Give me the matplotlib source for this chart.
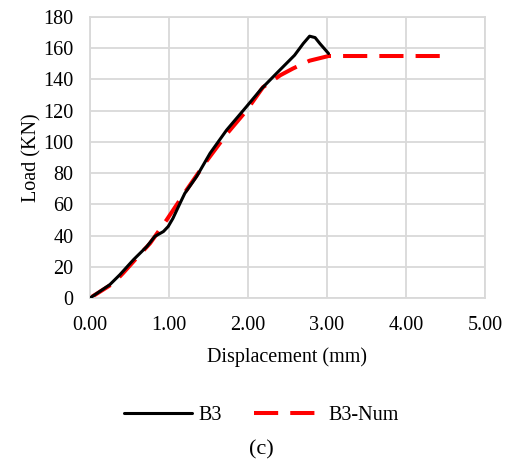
import matplotlib
matplotlib.use("Agg")
import matplotlib.pyplot as plt

plt.rcParams['font.family'] = ['Liberation Serif', 'DejaVu Serif']

# Data
b3_x = [0.0, 0.25, 0.38, 0.55, 0.72, 0.82, 0.93, 0.99, 1.05, 1.14, 1.20, 1.35, 1.52, 1.73, 1.98, 2.17, 2.36, 2.59, 2.70, 2.78, 2.85, 2.91, 3.02]
b3_y = [0.0, 8.5, 15.0, 24.5, 33.0, 39.4, 42.6, 45.8, 51.0, 60.7, 67.0, 77.8, 92.7, 107.6, 122.5, 134.0, 143.8, 155.5, 163.0, 167.7, 166.8, 163.0, 156.6]
num_x = [0.0, 0.30, 0.42, 0.59, 0.76, 0.97, 1.22, 1.48, 1.73, 1.98, 2.19, 2.41, 2.57, 2.78, 3.02, 4.51]
num_y = [0.0, 9.6, 16.0, 25.6, 35.0, 50.0, 69.0, 88.0, 105.0, 120.0, 135.0, 142.7, 147.0, 152.0, 155.0, 155.0]
x_ticks = [0, 1, 2, 3, 4, 5]
y_ticks = [0, 20, 40, 60, 80, 100, 120, 140, 160, 180]

fig = plt.figure(figsize=(5.22, 4.69), dpi=100)
ax = fig.add_axes([0.1724, 0.3646, 0.929 - 0.1724, 0.9638 - 0.3646])

ax.plot(b3_x, b3_y, color='black', lw=2.2, label='B3', solid_capstyle='round',
        solid_joinstyle='round', zorder=3)
ax.plot(num_x, num_y, color='red', lw=2.9, dashes=(6.0, 3.0), label='B3-Num', zorder=2)

ax.set_xlim(0, 5)
ax.set_ylim(0, 180)
ax.set_xticks(x_ticks)
ax.set_xticklabels([f"{v:.2f}" for v in x_ticks])
ax.set_yticks(y_ticks)
ax.grid(True, color='#d9d9d9', lw=1.3)
ax.set_axisbelow(True)
for s in ax.spines.values():
    s.set_color('#d9d9d9')
    s.set_linewidth(1.3)
ax.tick_params(axis='x', length=0, labelsize=14.5, pad=13, colors='black')
ax.tick_params(axis='y', length=0, labelsize=14.5, pad=12, colors='black')

ax.set_xlabel('Displacement (mm)', fontsize=14.5, labelpad=9)
ax.set_ylabel('Load (KN)', fontsize=14.5, labelpad=1)

fig.legend(loc='center', bbox_to_anchor=(0.5, 0.115), ncol=2, frameon=False,
           fontsize=14.5, handlelength=3.4, columnspacing=1.6, handletextpad=0.3)
fig.text(0.5, 0.04, '(c)', ha='center', va='center', fontsize=16)

fig.savefig('out.png', dpi=100)
